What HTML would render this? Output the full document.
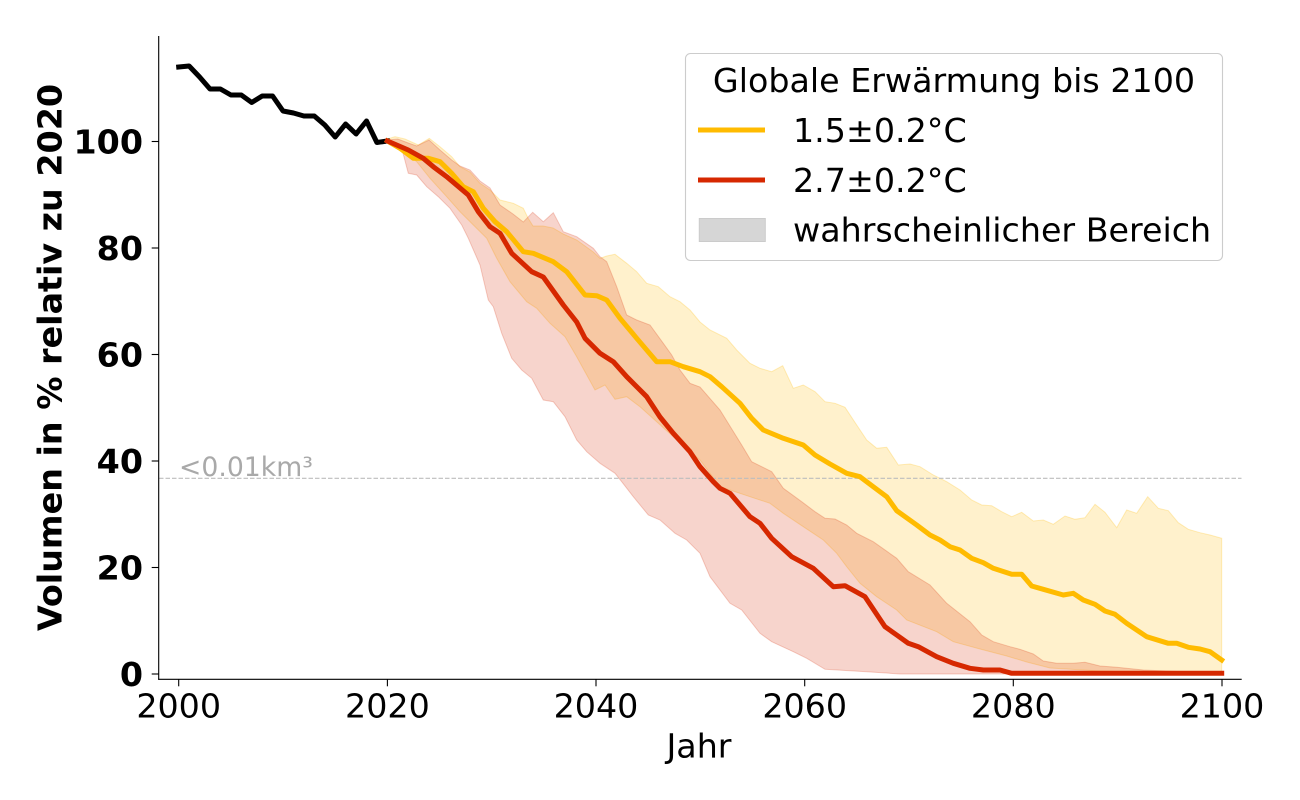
<!DOCTYPE html>
<html>
<head>
<meta charset="utf-8">
<style>
  html,body{margin:0;padding:0;background:#fff;}
  svg{display:block;}
  text{font-family:"DejaVu Sans","Liberation Sans",sans-serif;}
</style>
</head>
<body>
<svg width="1300" height="800" viewBox="0 0 1300 800" xmlns="http://www.w3.org/2000/svg">
  <rect x="0" y="0" width="1300" height="800" fill="#ffffff"/>

  <!-- yellow band -->
  <polygon fill="rgba(255,187,0,0.2)" stroke="rgba(255,187,0,0.25)" stroke-width="1" points="
387.4,139 395,136.7 405,139 418.3,145 429.3,138.3 440,146.7 451.7,156.7 460,166.7 470,172 480,183.3 490,190 500,200 513.3,203.3 523.3,208.3 528,218 533,226 543,226 553,228 563.3,234 576.7,240 593.3,252 600,258.3 606.7,256 615,254.3 626.7,263.3 636.7,271.7 646.7,283.3 658.3,286.7 670,296.7 680,301.7 690,310 700,322 710,330 726.7,338.3 736.7,350 750,363.3 760,368.3 771.7,371.7 782.7,365.7 793.3,388.3 803.3,385 815,391.7 825,401.7 835,403.3 845,407.3 856.7,425 866.7,440 876.7,448.3 886.7,447.3 898.3,465 910,464 920,466.7 933.3,475 946.7,481.7 960,490 971.7,500 981.7,505 991.7,505.7 1001.7,511.7 1011.7,516.7 1021.7,512.3 1033.3,521 1043.3,520 1053.3,524.3 1065,516 1075,519.3 1085,517.7 1095,504.3 1105,512.3 1116.7,527.7 1126.7,510 1136.7,513.3 1147.7,496.7 1158.3,508.3 1168.3,510.7 1178.3,522.7 1188.3,529.3 1200,532.7 1210,535 1221.7,538.3
1221.7,673 1150,672.5 1100,671 1050,668 1026.7,662 1006.7,656 980,649 953.3,641.7 936.7,631.7 906.7,620 896.7,610 876.7,596.7 860,583.3 846.7,566.7 836.7,553.3 823.3,540 803.3,526.7 783.3,513.3 770,503.3 750,496.7 730,490 720,486.7 700,460 688.3,450 673.3,436.7 656.7,421.7 640,406.7 626.7,396.7 615,399.3 605,385 595,390 576.7,356.7 565,336.7 550,323.3 536.7,308.3 526.7,301.7 510,281.7 496.7,258.3 486.7,238.3 473.3,225 460,211.7 446.7,196.7 430,178.3 416.7,161.7 400,148 387.4,141"/>

  <!-- red band -->
  <polygon fill="rgba(214,40,0,0.2)" stroke="rgba(214,40,0,0.22)" stroke-width="1" points="
387.4,140 397.8,139 408.3,143 416.7,146 429,140 440,150 451.7,160 460,166 470,170 480,181 490,188 500,205 513,214 523.3,222 532.7,212.3 543.3,221.7 553.3,212.7 563.3,231.7 576.7,236.7 593.3,248.3 600,256.7 606.7,261.7 616.7,286.7 626.7,315 636.7,320 650,325 663.3,343.3 671.7,355 680,370 690,383.3 700,387 720,410 741.7,445 751.7,461.7 771.7,471.7 783.3,488.3 801.7,501.7 815,511.7 825,518.3 835,519 846.7,525 856.7,533.3 873.3,541.7 896.7,558.3 908.3,571.7 930,585 946.7,603.3 970,621.7 981.7,635 993.3,641.7 1010,646.7 1020,649.3 1033.3,654 1043.3,661 1056.7,663.3 1073.3,663.3 1085,662.3 1100,666 1116.7,667.3 1143.3,670 1183.3,671.7 1221.7,672.7
1221.7,674 900,674 866.7,671.7 825,669.3 806.7,658.3 793.3,651.7 771.7,641.7 760,633.3 741.7,610 730,603.3 710,576.7 700,553.3 686.7,540 675,533.3 660,520 648.3,515 633.3,496.7 621.7,481.7 615,473.3 600,463.3 586.7,451.7 576.7,440 565,416.7 553.3,401.7 543.3,400 531.7,378.3 521.7,370 511.7,358.3 501.7,333.3 493.3,306.7 488.3,300 480,265 468.3,238.3 461.7,225 450,208.3 438.3,196.7 426.7,186.7 416.7,175 408.3,173.3 401.7,148.3 387.4,141"/>

  <!-- dashed threshold line -->
  <line x1="159" y1="478.3" x2="1241.5" y2="478.3" stroke="#bdbdbd" stroke-width="1.2" stroke-dasharray="4.5 2"/>
  <text x="179" y="476" font-size="26.7" fill="#a9a9a9">&lt;0.01km³</text>

  <!-- historical black line -->
  <polyline fill="none" stroke="#000000" stroke-width="5" stroke-linejoin="round" stroke-linecap="square" points="
178.7,67 189.1,66 199.6,77 210,89 220.4,89 230.9,95 241.3,95 251.7,102.5 262.2,96 272.6,96 283,111 293.5,113 303.9,116 314.3,116 324.8,125 335.2,137 345.6,124 356.1,134 366.5,121 376.9,142.5 387.4,141"/>

  <!-- yellow median -->
  <polyline fill="none" stroke="#ffbb00" stroke-width="5" stroke-linejoin="round" stroke-linecap="square" points="
387.4,141 400,148.3 413.3,158.3 428.3,158.3 440,161.7 451.7,173.3 463.3,186.7 473.3,191.7 483.3,208.3 495,221.7 506.7,231.7 523.3,251.7 533.3,253.3 553.3,261.7 566.7,271.7 585,295 596.7,295.7 606.7,300 620,318.3 636.7,338.3 656.7,361.7 670,361.7 683.3,366.7 700,371.7 710,376.7 721.7,386.7 740,403.3 751.7,418.3 763.3,430 783.3,438.3 803.3,445 815,455 830,464 846.7,473.3 860,476.7 873.3,486.7 886.7,496.7 896.7,510.7 916.7,525 930,535 940,540 950,546.7 960,550 971.7,558.3 983.3,562.7 993.3,568.3 1011.7,574.3 1021.7,574.3 1031.7,586 1043.3,589.3 1063.3,595 1073.3,593.3 1083.3,600 1095,604.3 1105,611 1115,614.3 1126.7,623.3 1146.7,636.7 1168.3,643.3 1176.7,643.3 1188.3,647.3 1200,649 1210,651.7 1221.7,660"/>

  <!-- red median -->
  <polyline fill="none" stroke="#d62800" stroke-width="5" stroke-linejoin="round" stroke-linecap="square" points="
387.4,141 408.3,150 423.3,158.3 433.3,166.7 446.7,176.7 468.3,195 478.3,211.7 490,226.7 500,233.3 511.7,253.3 531.7,271.7 543.3,277 563.3,305 576.7,322 585,338.3 600,353.3 613.3,361.7 626.7,376.7 646.7,396.7 660,417 673.3,433.3 690,451.7 700,466.7 713.3,481.7 720,488.3 730,493.3 750,516.7 760,523.3 771.7,538.3 791.7,556.7 813.3,568.3 833.3,586.7 845,585.7 865,596.7 885,626.7 896.7,635 908.3,643.3 918.3,646.7 936.7,656.7 953.3,663.3 970,668.3 983.3,670 1000,670 1011.7,673.3 1221.7,673.3"/>

  <!-- spines -->
  <line x1="158.7" y1="36" x2="158.7" y2="679.8" stroke="#000" stroke-width="1.1"/>
  <line x1="158.2" y1="679.3" x2="1241.7" y2="679.3" stroke="#000" stroke-width="1.1"/>

  <!-- y ticks -->
  <g stroke="#000" stroke-width="1.1">
    <line x1="151.7" y1="674" x2="158.7" y2="674"/>
    <line x1="151.7" y1="567.5" x2="158.7" y2="567.5"/>
    <line x1="151.7" y1="461" x2="158.7" y2="461"/>
    <line x1="151.7" y1="354.5" x2="158.7" y2="354.5"/>
    <line x1="151.7" y1="248" x2="158.7" y2="248"/>
    <line x1="151.7" y1="141.5" x2="158.7" y2="141.5"/>
  </g>
  <g font-size="33.3" font-weight="bold" text-anchor="end" fill="#000">
    <text x="143" y="686">0</text>
    <text x="143" y="579.5">20</text>
    <text x="143" y="473">40</text>
    <text x="143" y="366.5">60</text>
    <text x="143" y="260">80</text>
    <text x="143" y="153.5">100</text>
  </g>

  <!-- x ticks -->
  <g stroke="#000" stroke-width="1.1">
    <line x1="178.7" y1="679.3" x2="178.7" y2="686.3"/>
    <line x1="387.4" y1="679.3" x2="387.4" y2="686.3"/>
    <line x1="596" y1="679.3" x2="596" y2="686.3"/>
    <line x1="804.7" y1="679.3" x2="804.7" y2="686.3"/>
    <line x1="1013.3" y1="679.3" x2="1013.3" y2="686.3"/>
    <line x1="1222" y1="679.3" x2="1222" y2="686.3"/>
  </g>
  <g font-size="33.3" text-anchor="middle" fill="#000">
    <text x="178.7" y="717.5">2000</text>
    <text x="387.4" y="717.5">2020</text>
    <text x="596" y="717.5">2040</text>
    <text x="804.7" y="717.5">2060</text>
    <text x="1013.3" y="717.5">2080</text>
    <text x="1222" y="717.5">2100</text>
  </g>

  <!-- axis labels -->
  <text x="699" y="757.5" font-size="33.3" text-anchor="middle" fill="#000">Jahr</text>
  <text transform="translate(61.5,357.5) rotate(-90)" x="0" y="0" font-size="33.3" font-weight="bold" text-anchor="middle" fill="#000">Volumen in % relativ zu 2020</text>

  <!-- legend -->
  <rect x="685.5" y="53.5" width="537" height="207" rx="5" ry="5" fill="rgba(255,255,255,0.8)" stroke="#cccccc" stroke-width="1.1"/>
  <text x="954" y="92" font-size="33.3" text-anchor="middle" fill="#000">Globale Erwärmung bis 2100</text>
  <line x1="698" y1="130" x2="765" y2="130" stroke="#ffbb00" stroke-width="5"/>
  <text x="793" y="142" font-size="33.3" fill="#000">1.5±0.2°C</text>
  <line x1="698" y1="180" x2="765" y2="180" stroke="#d62800" stroke-width="5"/>
  <text x="793" y="192" font-size="33.3" fill="#000">2.7±0.2°C</text>
  <rect x="699.3" y="218.5" width="66" height="23" fill="#d6d6d6" stroke="#cbcbcb" stroke-width="1"/>
  <text x="793" y="241.5" font-size="33.3" fill="#000">wahrscheinlicher Bereich</text>
</svg>
</body>
</html>
